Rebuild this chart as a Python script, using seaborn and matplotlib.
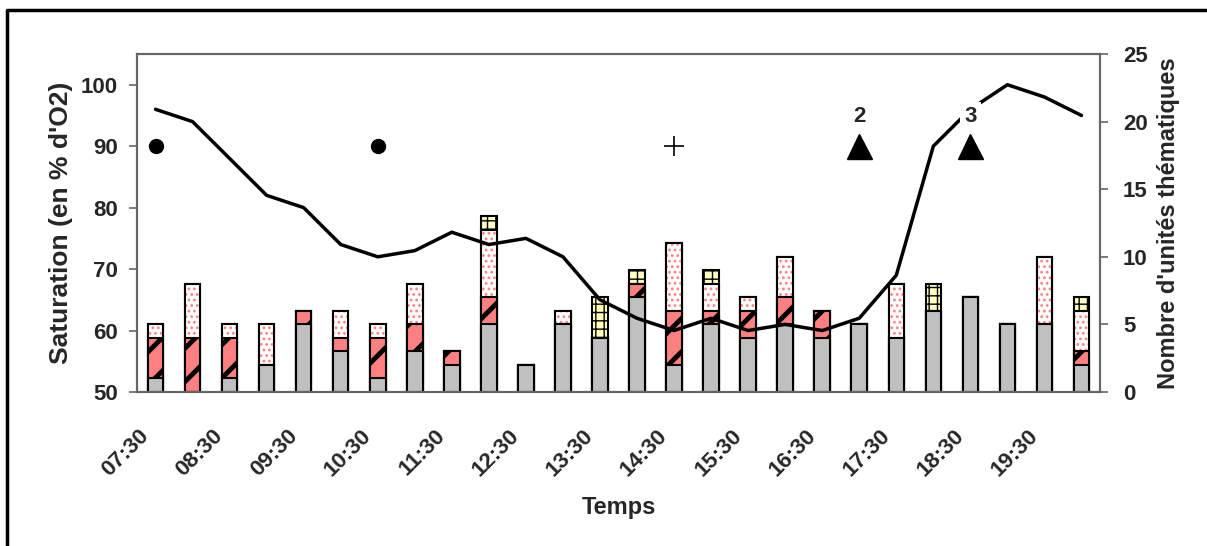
import matplotlib.pyplot as plt
from matplotlib.lines import Line2D
from matplotlib.transforms import ScaledTranslation
import numpy as np
import seaborn as sns

# heures de prélèvement (toutes les 30 min)
times = ["07:30", "08:00", "08:30", "09:00", "09:30", "10:00", "10:30", "11:00",
         "11:30", "12:00", "12:30", "13:00", "13:30", "14:00", "14:30", "15:00",
         "15:30", "16:00", "16:30", "17:00", "17:30", "18:00", "18:30", "19:00",
         "19:30", "20:00"]

# saturation en O2 (axe gauche)
saturation = [96, 94, 88, 82, 80, 74, 72, 73, 76, 74, 75, 72, 65, 62, 60, 62,
              60, 61, 60, 62, 69, 90, 96, 100, 98, 95]

# nombre d'unités thématiques (axe droit), empilées
gris = [1, 0, 1, 2, 5, 3, 1, 3, 2, 5, 2, 5, 4, 7, 2, 5, 4, 5, 4, 5, 4, 6, 7, 5, 5, 2]
rouge = [3, 4, 3, 0, 1, 1, 3, 2, 1, 2, 0, 0, 0, 1, 4, 1, 2, 2, 2, 0, 0, 0, 0, 0, 0, 1]
rose = [1, 4, 1, 3, 0, 2, 1, 3, 0, 5, 0, 1, 0, 0, 5, 2, 1, 3, 0, 0, 4, 0, 0, 0, 5, 3]
jaune = [0, 0, 0, 0, 0, 0, 0, 0, 0, 1, 0, 0, 3, 1, 0, 1, 0, 0, 0, 0, 0, 2, 0, 0, 0, 1]

# évènements
cercles = ["07:30", "10:30"]
croix = ["14:30"]
triangles = ["17:00", "18:30"]
triangle_labels = ["2", "3"]
niveau_evt = 90

sns.set_style("white")
plt.rcParams['font.family'] = ['Liberation Sans', 'DejaVu Sans']
plt.rcParams['font.weight'] = 'bold'

fig = plt.figure(figsize=(12.07, 5.46), dpi=100)
# cadre (seuls les bords gauche et haut sont dans l'image)
x0, y1 = 7 / 1207, 1 - 10 / 546
fig.add_artist(Line2D([x0, x0, 0.999], [0.0, y1, y1], transform=fig.transFigure,
                      color='black', linewidth=2.5))

ax = fig.add_axes([137 / 1207, 1 - 392 / 546, 963 / 1207, 338 / 546])
ax2 = ax.twinx()

idx = {t: i for i, t in enumerate(times)}

# barres empilées : on dessine les cumuls du plus haut au plus bas
c1 = np.array(gris)
c2 = c1 + np.array(rouge)
c3 = c2 + np.array(rose)
c4 = c3 + np.array(jaune)
couches = [
    (c4, '#FFFFC0', 'black', '++', 1.0),
    (c3, 'white', '#FF8080', '...', 1.2),
    (c2, '#FF8080', 'black', '/', 3.5),
    (c1, '#C0C0C0', None, '', 1.0),
]
for cum, face, hcol, hatch, hlw in couches:
    with plt.rc_context({'hatch.linewidth': hlw}):
        n0 = len(ax2.patches)
        sns.barplot(x=times, y=cum, ax=ax2, color=face, width=0.42,
                    errorbar=None, saturation=1)
        for p in ax2.patches[n0:]:
            p.set_facecolor(face)
            if hatch:
                p.set_hatch(hatch)
                p.set_edgecolor(hcol)
            p.set_linewidth(0)
    n0 = len(ax2.patches)
    sns.barplot(x=times, y=cum, ax=ax2, color='black', width=0.42,
                errorbar=None, saturation=1)
    for p in ax2.patches[n0:]:
        p.set_facecolor('none')
        p.set_edgecolor('black')
        p.set_linewidth(1.5)

# courbe de saturation
sns.lineplot(x=np.arange(len(times)), y=saturation, ax=ax, color='black',
             linewidth=2.5)
ax.plot([idx[t] for t in cercles], [niveau_evt] * len(cercles), 'o',
        color='black', markersize=10)
ax.plot([idx[t] for t in croix], [niveau_evt] * len(croix), '+',
        color='black', markersize=15, markeredgewidth=1.2)
ax.plot([idx[t] for t in triangles], [niveau_evt] * len(triangles), '^',
        color='black', markersize=18)
for t, lab in zip(triangles, triangle_labels):
    ax.text(idx[t], 94.8, lab, ha='center', va='center', fontsize=16,
            fontweight='bold', bbox=dict(facecolor='white', edgecolor='none', pad=3))

ax.set_zorder(ax2.get_zorder() + 1)
ax.patch.set_visible(False)

ax.set_xlim(-0.5, len(times) - 0.5)
ax.set_ylim(50, 105)
ax2.set_ylim(0, 25)
ax.set_yticks(range(50, 101, 10))
ax2.set_yticks(range(0, 26, 5))

ax.set_xticks(range(0, len(times), 2))
ax.set_xticklabels(times[::2], rotation=45, ha='right', rotation_mode='anchor',
                   fontsize=16, fontweight='bold')
ax.set_xticks(np.arange(-0.5, len(times), 1), minor=True)
ax.tick_params(axis='x', which='major', length=0, pad=24)
ax.tick_params(axis='x', which='minor', length=6, width=1.2, color='#666666',
               direction='out')
ax.tick_params(axis='y', length=6, width=1.2, color='#666666', direction='out',
               labelsize=16, left=True, pad=7.5)
ax2.tick_params(axis='y', length=6, width=1.2, color='#666666', direction='out',
                labelsize=16, right=True, pad=10.5)
ax2.tick_params(axis='x', which='both', length=0, labelbottom=False)
for a in (ax, ax2):
    for s in a.spines.values():
        s.set_color('#666666')
        s.set_linewidth(1.5)
    for lbl in a.get_yticklabels():
        lbl.set_fontweight('bold')

ax.set_xlabel('Temps', fontsize=17, fontweight='bold', labelpad=11)
ax.set_ylabel("Saturation (en % d'O2)", fontsize=19, fontweight='bold', labelpad=6)
ax2.set_ylabel("Nombre d'unités thématiques", fontsize=17, fontweight='bold',
               labelpad=7)

# décalage des étiquettes horaires vers la gauche (après tick_params)
shift = ScaledTranslation(-17 / 100, 0, fig.dpi_scale_trans)
for lbl in ax.get_xticklabels():
    lbl.set_transform(lbl.get_transform() + shift)

fig.savefig('out.png', dpi=100)
